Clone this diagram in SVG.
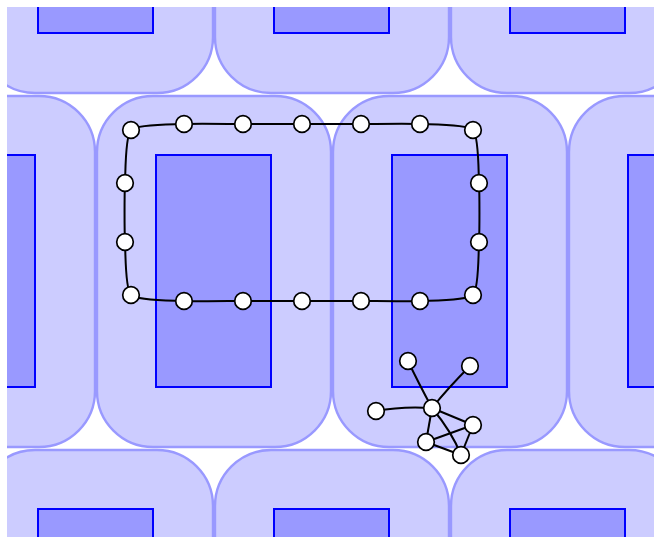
<svg xmlns="http://www.w3.org/2000/svg" width="654" height="537" viewBox="0 0 654 537">
<style>
.tile{fill:#ccccff;stroke:#9999ff;stroke-width:2.4}
.inner{fill:#9999ff;stroke:#0000ff;stroke-width:2}
.edge{fill:none;stroke:#000;stroke-width:2}
.node{fill:#fff;stroke:#000;stroke-width:1.7}
</style>
<defs>
<clipPath id="clip"><rect x="7" y="7" width="647" height="530"/></clipPath>
<g id="cell">
<rect class="tile" x="0" y="0" width="234" height="351" rx="56" ry="56"/>
<rect class="inner" x="59" y="59" width="115" height="232"/>
</g>
</defs>
<rect width="654" height="537" fill="#fff"/>
<g id="background" clip-path="url(#clip)">
<use href="#cell" x="-21" y="-258"/>
<use href="#cell" x="215" y="-258"/>
<use href="#cell" x="451" y="-258"/>
<use href="#cell" x="-139" y="96"/>
<use href="#cell" x="97" y="96"/>
<use href="#cell" x="333" y="96"/>
<use href="#cell" x="569" y="96"/>
<use href="#cell" x="-21" y="450"/>
<use href="#cell" x="215" y="450"/>
<use href="#cell" x="451" y="450"/>
</g>
<g id="connectors">
<path class="edge" d="M131,130 C136.9,124.1 172.8,124.6 184,124 C195.2,123.4 231.2,124 243,124 C254.8,124 290.2,124 302,124 C313.8,124 349.2,124 361,124 C372.8,124 408.8,123.4 420,124 C431.2,124.6 467.1,124.1 473,130 C478.9,135.9 478.4,171.8 479,183 C479.6,194.2 479.6,230.8 479,242 C478.4,253.2 478.9,289.1 473,295 C467.1,300.9 431.2,300.4 420,301 C408.8,301.6 372.8,301 361,301 C349.2,301 313.8,301 302,301 C290.2,301 254.8,301 243,301 C231.2,301 195.2,301.6 184,301 C172.8,300.4 136.9,300.9 131,295 C125.1,289.1 125.6,253.2 125,242 C124.4,230.8 124.4,194.2 125,183 C125.6,171.8 125.1,135.9 131,130 Z"/>
<path class="edge" d="M408,361 Q418,382 432,408"/>
<path class="edge" d="M470,366 Q448,388 432,408"/>
<path class="edge" d="M376,411 Q402,406 432,408"/>
<path class="edge" d="M432,408 L473,425"/>
<path class="edge" d="M432,408 L426,442"/>
<path class="edge" d="M432,408 Q452,432 461,455"/>
<path class="edge" d="M426,442 L473,425"/>
<path class="edge" d="M426,442 L461,455"/>
<path class="edge" d="M473,425 L461,455"/>
</g>
<g id="n0"><circle class="node" cx="131" cy="130" r="8.3"/></g>
<g id="n1"><circle class="node" cx="184" cy="124" r="8.3"/></g>
<g id="n2"><circle class="node" cx="243" cy="124" r="8.3"/></g>
<g id="n3"><circle class="node" cx="302" cy="124" r="8.3"/></g>
<g id="n4"><circle class="node" cx="361" cy="124" r="8.3"/></g>
<g id="n5"><circle class="node" cx="420" cy="124" r="8.3"/></g>
<g id="n6"><circle class="node" cx="473" cy="130" r="8.3"/></g>
<g id="n7"><circle class="node" cx="479" cy="183" r="8.3"/></g>
<g id="n8"><circle class="node" cx="479" cy="242" r="8.3"/></g>
<g id="n9"><circle class="node" cx="473" cy="295" r="8.3"/></g>
<g id="n10"><circle class="node" cx="420" cy="301" r="8.3"/></g>
<g id="n11"><circle class="node" cx="361" cy="301" r="8.3"/></g>
<g id="n12"><circle class="node" cx="302" cy="301" r="8.3"/></g>
<g id="n13"><circle class="node" cx="243" cy="301" r="8.3"/></g>
<g id="n14"><circle class="node" cx="184" cy="301" r="8.3"/></g>
<g id="n15"><circle class="node" cx="131" cy="295" r="8.3"/></g>
<g id="n16"><circle class="node" cx="125" cy="242" r="8.3"/></g>
<g id="n17"><circle class="node" cx="125" cy="183" r="8.3"/></g>
<g id="c0"><circle class="node" cx="408" cy="361" r="8.3"/></g>
<g id="c1"><circle class="node" cx="470" cy="366" r="8.3"/></g>
<g id="c2"><circle class="node" cx="376" cy="411" r="8.3"/></g>
<g id="c3"><circle class="node" cx="432" cy="408" r="8.3"/></g>
<g id="c4"><circle class="node" cx="473" cy="425" r="8.3"/></g>
<g id="c5"><circle class="node" cx="426" cy="442" r="8.3"/></g>
<g id="c6"><circle class="node" cx="461" cy="455" r="8.3"/></g>
</svg>
